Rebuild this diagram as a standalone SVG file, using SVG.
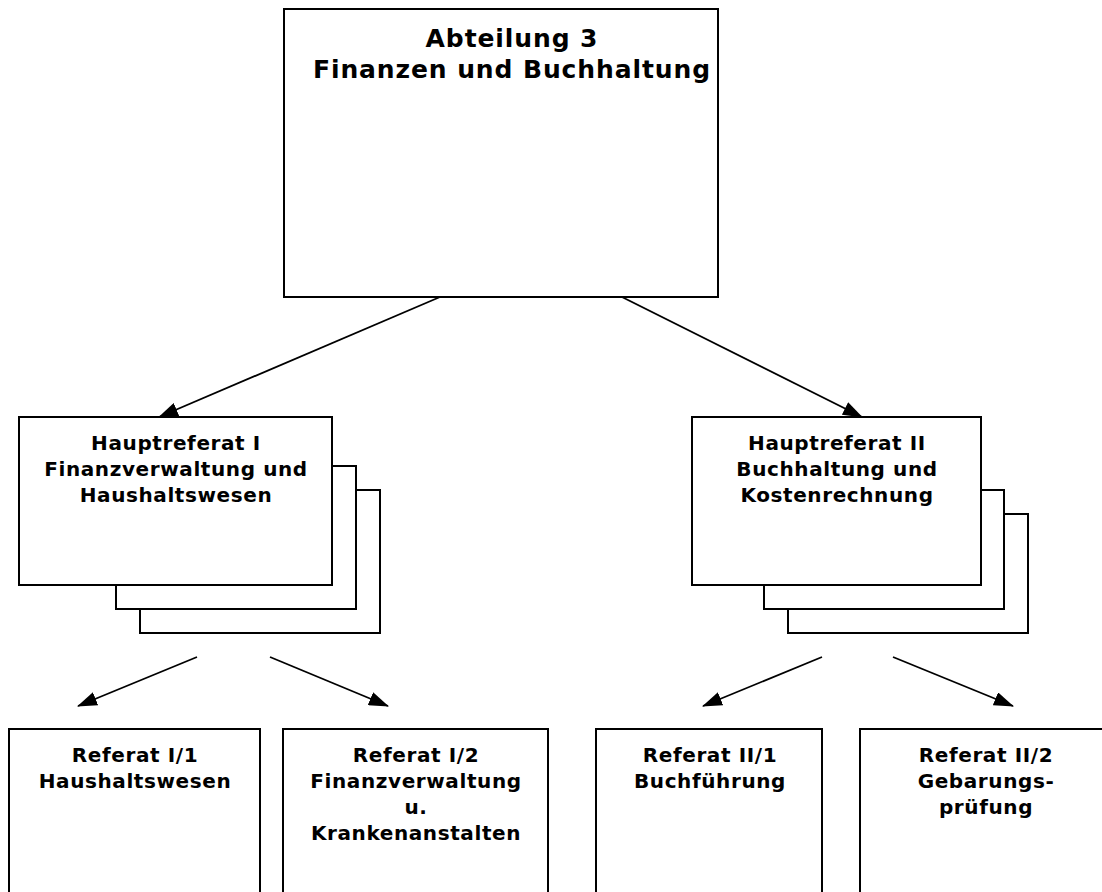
<svg xmlns="http://www.w3.org/2000/svg" width="1102" height="892" viewBox="0 0 1102 892">
<style>
.box{fill:#fff;stroke:#000;stroke-width:2}
.conn{stroke:#000;stroke-width:1.8;fill:none;marker-end:url(#ah)}
text{font-family:"DejaVu Sans","Verdana",sans-serif;font-weight:bold;fill:#000;text-anchor:middle}
.t1{font-size:25px;letter-spacing:0.9px}
.t2{font-size:20px;letter-spacing:0.6px}
</style>
<defs>
<marker id="ah" markerUnits="userSpaceOnUse" markerWidth="20" markerHeight="14" refX="19" refY="7" orient="auto">
<path d="M0,0 L20,7 L0,14 z" fill="#000"/>
</marker>
</defs>
<rect width="1102" height="892" fill="#fff"/>
<g id="connectors">
<line class="conn" x1="440" y1="297" x2="159" y2="417"/>
<line class="conn" x1="622" y1="297" x2="862" y2="417"/>
<line class="conn" x1="197" y1="657" x2="78" y2="706"/>
<line class="conn" x1="270" y1="657" x2="388" y2="706"/>
<line class="conn" x1="822" y1="657" x2="703" y2="706"/>
<line class="conn" x1="893" y1="657" x2="1013" y2="706"/>
</g>
<g id="abteilung3">
<rect class="box" x="284" y="9" width="434" height="288"/>
<text class="t1" x="512" y="47">Abteilung 3</text>
<text class="t1" x="512" y="78">Finanzen und Buchhaltung</text>
</g>
<g id="hauptreferat1">
<rect class="box" x="140" y="490" width="240" height="143"/>
<rect class="box" x="116" y="466" width="240" height="143"/>
<rect class="box" x="19" y="417" width="313" height="168"/>
<text class="t2" x="176" y="450">Hauptreferat I</text>
<text class="t2" x="176" y="476">Finanzverwaltung und</text>
<text class="t2" x="176" y="502">Haushaltswesen</text>
</g>
<g id="hauptreferat2">
<rect class="box" x="788" y="514" width="240" height="119"/>
<rect class="box" x="764" y="490" width="240" height="119"/>
<rect class="box" x="692" y="417" width="289" height="168"/>
<text class="t2" x="837" y="450">Hauptreferat II</text>
<text class="t2" x="837" y="476">Buchhaltung und</text>
<text class="t2" x="837" y="502">Kostenrechnung</text>
</g>
<g id="referat1-1">
<rect class="box" x="9" y="729" width="251" height="180"/>
<text class="t2" x="135" y="762">Referat I/1</text>
<text class="t2" x="135" y="788">Haushaltswesen</text>
</g>
<g id="referat1-2">
<rect class="box" x="283" y="729" width="265" height="180"/>
<text class="t2" x="416" y="762">Referat I/2</text>
<text class="t2" x="416" y="788">Finanzverwaltung</text>
<text class="t2" x="416" y="814">u.</text>
<text class="t2" x="416" y="840">Krankenanstalten</text>
</g>
<g id="referat2-1">
<rect class="box" x="596" y="729" width="226" height="180"/>
<text class="t2" x="710" y="762">Referat II/1</text>
<text class="t2" x="710" y="788">Buchführung</text>
</g>
<g id="referat2-2">
<rect class="box" x="860" y="729" width="250" height="180"/>
<text class="t2" x="986" y="762">Referat II/2</text>
<text class="t2" x="986" y="788">Gebarungs-</text>
<text class="t2" x="986" y="814">prüfung</text>
</g>
</svg>
